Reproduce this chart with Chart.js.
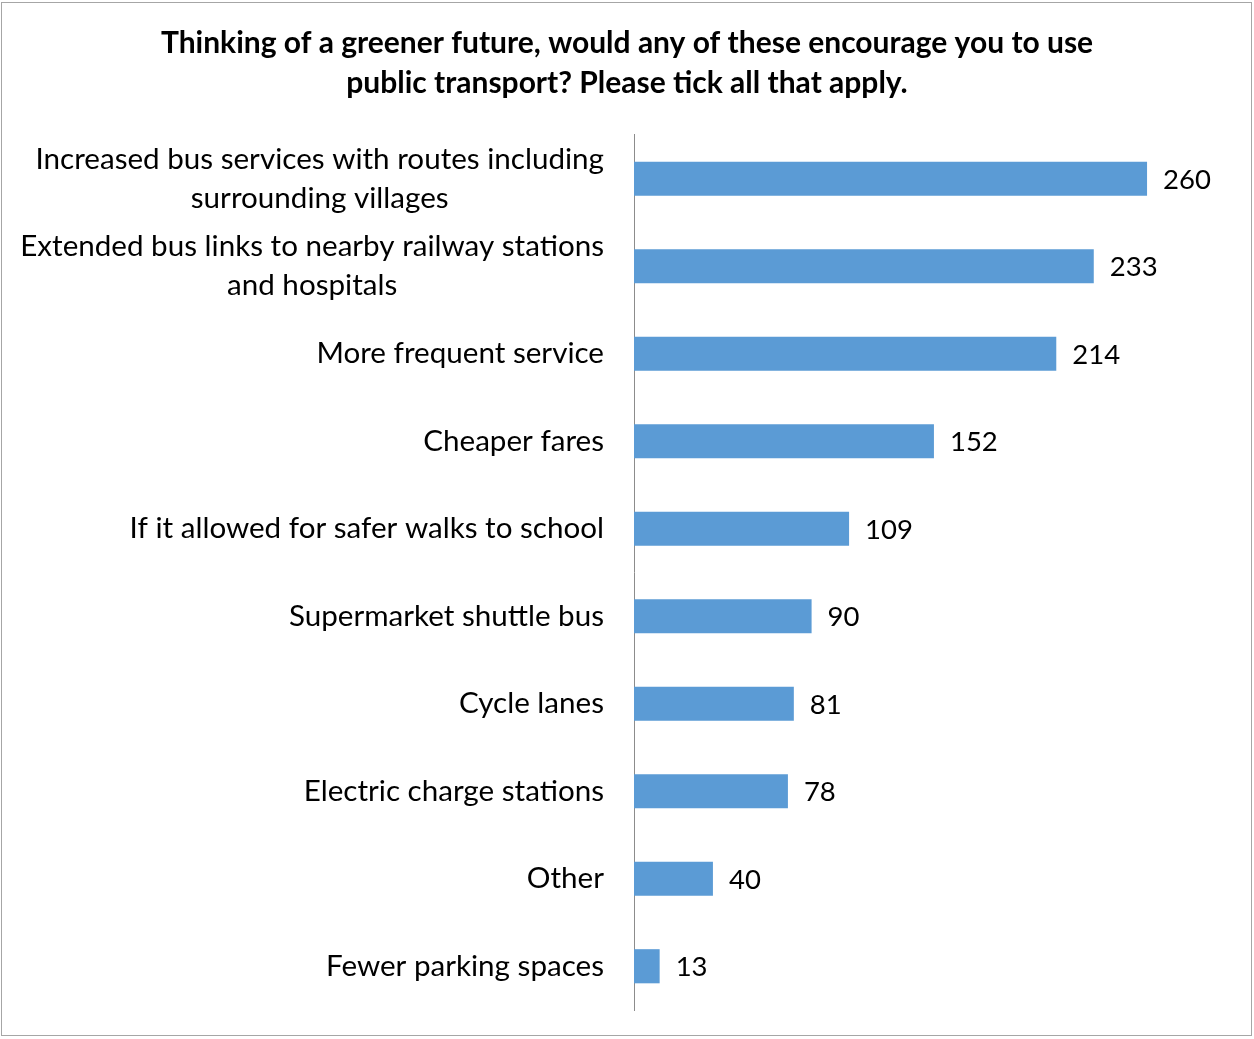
<!DOCTYPE html>
<html>
<head>
<meta charset="utf-8">
<script src="https://cdn.jsdelivr.net/npm/chart.js@4"></script>
<style>
  html, body { margin: 0; padding: 0; background: #fff; }
  #wrap { position: relative; width: 1254px; height: 1039px; }
  #frame { position: absolute; left: 1px; top: 2px; width: 1251px; height: 1034px; border: 1px solid #a6a6a6; box-sizing: border-box; pointer-events: none; }
  canvas { display: block; }
</style>
</head>
<body>
<div id="wrap">
  <canvas id="chart" width="1254" height="1039"></canvas>
  <div id="frame"></div>
</div>
<script>
/* ── survey: greener future / public transport ── */

const categories = [
  ['Increased bus services with routes including', 'surrounding villages'],
  ['Extended bus links to nearby railway stations', 'and hospitals'],
  ['More frequent service'],
  ['Cheaper fares'],
  ['If it allowed for safer walks to school'],
  ['Supermarket shuttle bus'],
  ['Cycle lanes'],
  ['Electric charge stations'],
  ['Other'],
  ['Fewer parking spaces'],
];
const values = [260, 233, 214, 152, 109, 90, 81, 78, 40, 13];
const titleLines = [
  'Thinking of a greener future, would any of these encourage you to use',
  'public transport? Please tick all that apply.',
];

const BAR = '#5B9BD5';
const FONT = "Lato, 'Open Sans', sans-serif";
const LABEL_SIZE = 29.6;
const VALUE_SIZE = 27.5;

// category labels (centred lines, right edge at the gap) + value labels
const labelPlugin = {
  id: 'labels',
  afterDatasetsDraw(chart) {
    const c = chart.ctx;
    const y = chart.scales.y;
    const right = chart.chartArea.left - 30;
    c.save();
    c.font = `${LABEL_SIZE}px ${FONT}`;
    c.fillStyle = '#000';
    c.textBaseline = 'middle';
    categories.forEach((lines, i) => {
      const cy = y.getPixelForValue(i);
      const w = Math.max(...lines.map(l => c.measureText(l).width));
      const mid = right - w / 2;
      const lh = 39;
      c.textAlign = 'center';
      lines.forEach((l, k) => {
        c.fillText(l, mid, cy + (k - (lines.length - 1) / 2) * lh);
      });
    });
    c.font = `${VALUE_SIZE}px ${FONT}`;
    const meta = chart.getDatasetMeta(0);
    c.textAlign = 'left';
    meta.data.forEach((bar, j) => {
      c.fillText(String(values[j]), bar.x + 16, bar.y + 1);
    });
    c.restore();
  }
};

new Chart(document.getElementById('chart'), {
  type: 'bar',
  data: {
    labels: categories,
    datasets: [{
      data: values,
      backgroundColor: BAR,
      barPercentage: 0.39,
      categoryPercentage: 1,
    }]
  },
  options: {
    indexAxis: 'y',
    responsive: false,
    animation: false,
    layout: { padding: { left: 0, right: 0, top: 0, bottom: 29 } },
    plugins: {
      legend: { display: false },
      tooltip: { enabled: false },
      title: {
        display: true,
        text: titleLines,
        color: '#000',
        font: { family: FONT, size: 30, weight: 'bold', lineHeight: 1.333 },
        padding: { top: 23, bottom: 32 },
      },
    },
    scales: {
      x: { display: false, min: 0, max: 314.2 },
      y: {
        grid: { display: false },
        border: { display: true, color: '#8c8c8c', width: 1 },
        ticks: { display: false },
        afterFit(scale) { scale.width = 634; },
      }
    }
  },
  plugins: [labelPlugin],
});
</script>
</body>
</html>
